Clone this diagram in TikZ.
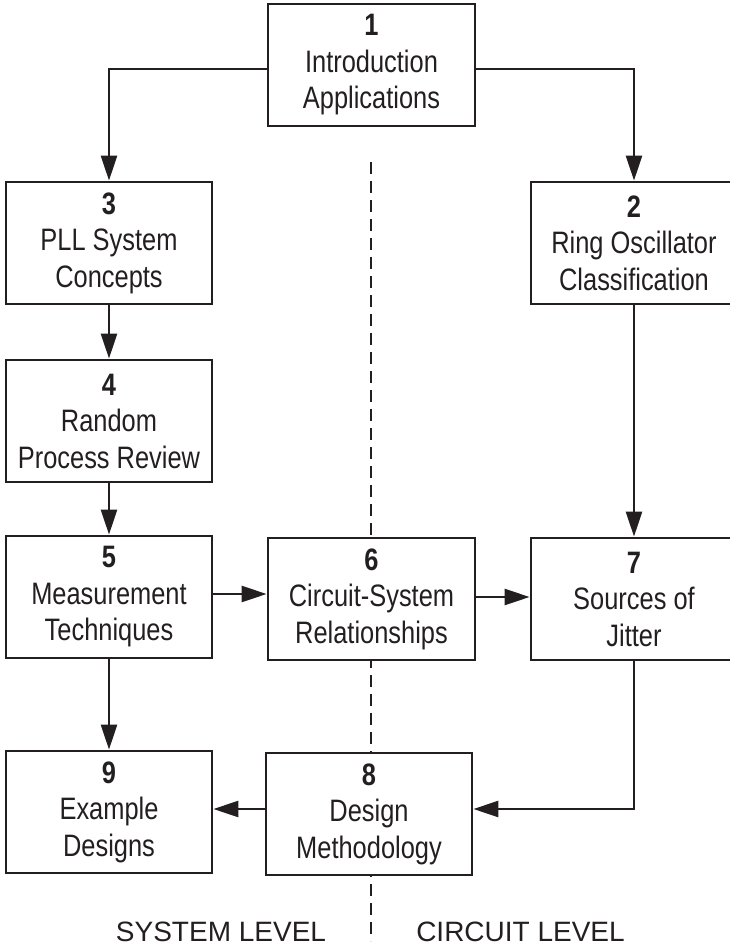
\documentclass[tikz,border=0pt]{standalone}
\usepackage{fontspec}
\setmainfont{Liberation Sans}[FakeStretch=0.82]
\newfontfamily\levelfont{Liberation Sans}
\usetikzlibrary{arrows.meta}
\definecolor{ink}{RGB}{35,31,32}
\tikzset{
  chapter/.style={draw=ink, fill=white, line width=2.8pt, inner sep=0pt,
    minimum height=122pt, align=center, text=ink,
    font=\fontsize{31}{36.5}\selectfont},
  arr/.style={draw=ink, line width=2.6pt,
    -{Triangle[length=25pt, width=16pt]}},
  divider/.style={draw=ink, line width=2.4pt, dash pattern=on 12pt off 7pt},
  levellabel/.style={text=ink, font=\levelfont\fontsize{28}{32}\selectfont}
}
\begin{document}
\begin{tikzpicture}[x=1pt, y=-1pt]
\useasboundingbox (0,0) rectangle (730,948);
\clip (0,0) rectangle (730,948);

% dividing line between system and circuit level
\coordinate (dtop) at (371,162);
\coordinate (dbot) at (371,941);
\draw[divider] (dtop) -- (dbot);

% chapter boxes
\node[chapter, minimum width=207pt] (b1) at (371.5,65) {\textbf{1}\\Introduction\\Applications};
\node[chapter, minimum width=206pt] (b3) at (109,243) {\textbf{3}\\PLL System\\Concepts};
\node[chapter, minimum width=206pt] (b2) at (634,243) {\textbf{2}\\Ring Oscillator\\Classification};
\node[chapter, minimum width=206pt] (b4) at (109,421) {\textbf{4}\\Random\\Process Review};
\node[chapter, minimum width=206pt] (b5) at (109,597) {\textbf{5}\\Measurement\\Techniques};
\node[chapter, minimum width=207pt] (b6) at (371.5,599) {\textbf{6}\\Circuit-System\\Relationships};
\node[chapter, minimum width=206pt] (b7) at (634,599) {\textbf{7}\\Sources of\\Jitter};
\node[chapter, minimum width=206pt] (b9) at (109,812) {\textbf{9}\\Example\\Designs};
\node[chapter, minimum width=206pt] (b8) at (369,814) {\textbf{8}\\Design\\Methodology};

% connectors
\draw[arr] ([yshift=-4pt]b1.west) -| (b3.north);
\draw[arr] ([yshift=-4pt]b1.east) -| (b2.north);
\draw[arr] (b3.south) -- (b4.north);
\draw[arr] (b4.south) -- (b5.north);
\draw[arr] (b5.south) -- (b9.north);
\draw[arr] (b2.south) -- (b7.north);
\draw[arr] ([yshift=3pt]b5.east) -- ([yshift=3pt]b5.east -| b6.west);
\draw[arr] ([yshift=2pt]b6.east) -- ([yshift=2pt]b6.east -| b7.west);
\draw[arr] (b7.south) |- ([yshift=5pt]b8.east);
\draw[arr] ([yshift=5pt]b8.west) -- ([yshift=5pt]b8.west -| b9.east);

% level labels
\node[levellabel] (sys) at (221,932) {SYSTEM LEVEL};
\node[levellabel] (cir) at (520.5,932) {CIRCUIT LEVEL};
\end{tikzpicture}
\end{document}
